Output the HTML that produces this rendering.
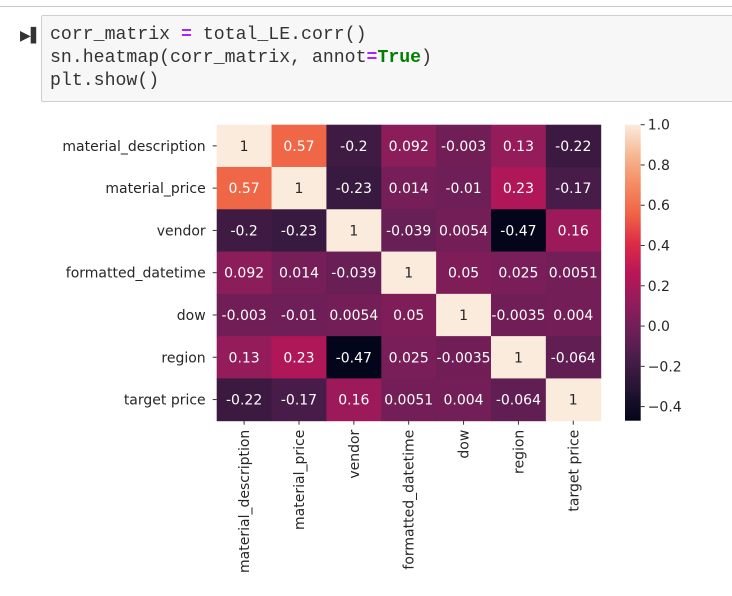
<!DOCTYPE html>
<html><head><meta charset="utf-8"><style>
body{margin:0;width:732px;height:596px;background:#fff;overflow:hidden;position:relative;font-family:"DejaVu Sans","Liberation Sans",sans-serif}
#topline{position:absolute;left:0;top:6px;width:732px;height:1px;background:#c8c8c8}
#run{position:absolute;left:20px;top:28px;font-size:14px;color:#333}
#cell{position:absolute;left:41px;top:15px;width:700px;height:85px;background:#f7f7f7;border:1px solid #cfcfcf;border-radius:2px}
#code{position:absolute;left:8px;top:8px;margin:0;font-family:"Liberation Mono",monospace;font-size:18.2px;line-height:23px;color:#333}
.op{color:#aa22ff;font-weight:bold}.kw{color:#008000;font-weight:bold}
svg{position:absolute;left:0;top:0}
</style></head><body>
<div id="topline"></div>
<div id="run">&#9654;&#x258C;</div>
<div id="cell"><pre id="code">corr_matrix <span class="op">=</span> total_LE.corr()
sn.heatmap(corr_matrix, annot<span class="op">=</span><span class="kw">True</span>)
plt.show()</pre></div>
<svg id="chart" width="732" height="596"></svg>
<script>
const labels=["material_description","material_price","vendor","formatted_datetime","dow","region","target price"];
const values=[
[1,0.57,-0.2,0.092,-0.003,0.13,-0.22],
[0.57,1,-0.23,0.014,-0.01,0.23,-0.17],
[-0.2,-0.23,1,-0.039,0.0054,-0.47,0.16],
[0.092,0.014,-0.039,1,0.05,0.025,0.0051],
[-0.003,-0.01,0.0054,0.05,1,-0.0035,0.004],
[0.13,0.23,-0.47,0.025,-0.0035,1,-0.064],
[-0.22,-0.17,0.16,0.0051,0.004,-0.064,1]];
const annots=[
["1","0.57","-0.2","0.092","-0.003","0.13","-0.22"],
["0.57","1","-0.23","0.014","-0.01","0.23","-0.17"],
["-0.2","-0.23","1","-0.039","0.0054","-0.47","0.16"],
["0.092","0.014","-0.039","1","0.05","0.025","0.0051"],
["-0.003","-0.01","0.0054","0.05","1","-0.0035","0.004"],
["0.13","0.23","-0.47","0.025","-0.0035","1","-0.064"],
["-0.22","-0.17","0.16","0.0051","0.004","-0.064","1"]];
const cbTicks=[1.0,0.8,0.6,0.4,0.2,0.0,-0.2,-0.4];
const cbTickLabels=["1.0","0.8","0.6","0.4","0.2","0.0","\u22120.2","\u22120.4"];
const vmin=-0.47,vmax=1;

const svg=document.getElementById('chart');const NS="http://www.w3.org/2000/svg";
const X0=216.7,X1=600.7,Y0=124.7,Y1=420.7;
const n=labels.length,cw=(X1-X0)/n,ch=(Y1-Y0)/n;
const xPos=i=>X0+i*cw, yPos=i=>Y0+i*ch;
const stops=[[0,[3,5,26]],[0.1,[34,19,49]],[0.2,[69,28,71]],[0.3,[106,31,86]],[0.4,[146,28,91]],[0.5,[185,22,87]],[0.6,[221,44,69]],[0.7,[240,100,70]],[0.8,[245,140,99]],[0.9,[246,185,148]],[1,[250,235,221]]];
function cmap(t){t=Math.max(0,Math.min(1,t));for(let k=1;k<stops.length;k++){if(t<=stops[k][0]){const[a,ca]=stops[k-1],[b,cb]=stops[k];const f=(t-a)/(b-a);return ca.map((c,j)=>Math.round(c+(cb[j]-c)*f));}}return stops[stops.length-1][1];}
const norm=v=>(v-vmin)/(vmax-vmin);
function el(t,a){const e=document.createElementNS(NS,t);for(const k in a)e.setAttribute(k,a[k]);svg.appendChild(e);return e;}
for(let r=0;r<n;r++)for(let c=0;c<n;c++){
 const v=values[r][c],col=cmap(norm(v));
 const rect=el('rect',{x:xPos(c),y:yPos(r),width:cw+0.5,height:ch+0.5,fill:`rgb(${col})`});
 
 
 const lum=0.299*col[0]+0.587*col[1]+0.114*col[2];
 const t=el('text',{x:xPos(c)+cw/2,y:yPos(r)+ch/2+5,'text-anchor':'middle','font-size':'14',fill:lum>150?'#262626':'#ffffff'});
 t.textContent=annots[r][c];
 
 
}
for(let i=0;i<n;i++){
 const yc=yPos(i)+ch/2;
 el('line',{x1:X0-4,x2:X0,y1:yc,y2:yc,stroke:'#333','stroke-width':1});
 const t=el('text',{x:X0-11,y:yc+5,'text-anchor':'end','font-size':'14',fill:'#262626'});
 t.textContent=labels[i];
 
 
 const xc=xPos(i)+cw/2;
 el('line',{x1:xc,x2:xc,y1:Y1,y2:Y1+4,stroke:'#333','stroke-width':1});
 const tx=el('text',{x:0,y:0,'text-anchor':'end','font-size':'14',fill:'#262626',transform:`translate(${xc+5},${Y1+9}) rotate(-90)`});
 tx.textContent=labels[i];
 
 
}
const CX0=625,CX1=640.7;
const cbY=v=>Y1-(v-vmin)/(vmax-vmin)*(Y1-Y0);
const defs=el('defs',{});const g=document.createElementNS(NS,'linearGradient');
g.setAttribute('id','cg');g.setAttribute('x1','0');g.setAttribute('y1','1');g.setAttribute('x2','0');g.setAttribute('y2','0');defs.appendChild(g);
for(let k=0;k<=20;k++){const s=document.createElementNS(NS,'stop');s.setAttribute('offset',k/20);s.setAttribute('stop-color',`rgb(${cmap(k/20)})`);g.appendChild(s);}
const cb=el('rect',{x:CX0,y:Y0,width:CX1-CX0,height:Y1-Y0,fill:'url(#cg)'});


cbTicks.forEach((v,i)=>{const y=cbY(v);
 el('line',{x1:CX1,x2:CX1+4,y1:y,y2:y,stroke:'#333','stroke-width':1});
 const t=el('text',{x:CX1+7,y:y+5,'font-size':'14',fill:'#262626'});
 t.textContent=cbTickLabels[i];
 
 
});
</script>
</body></html>
